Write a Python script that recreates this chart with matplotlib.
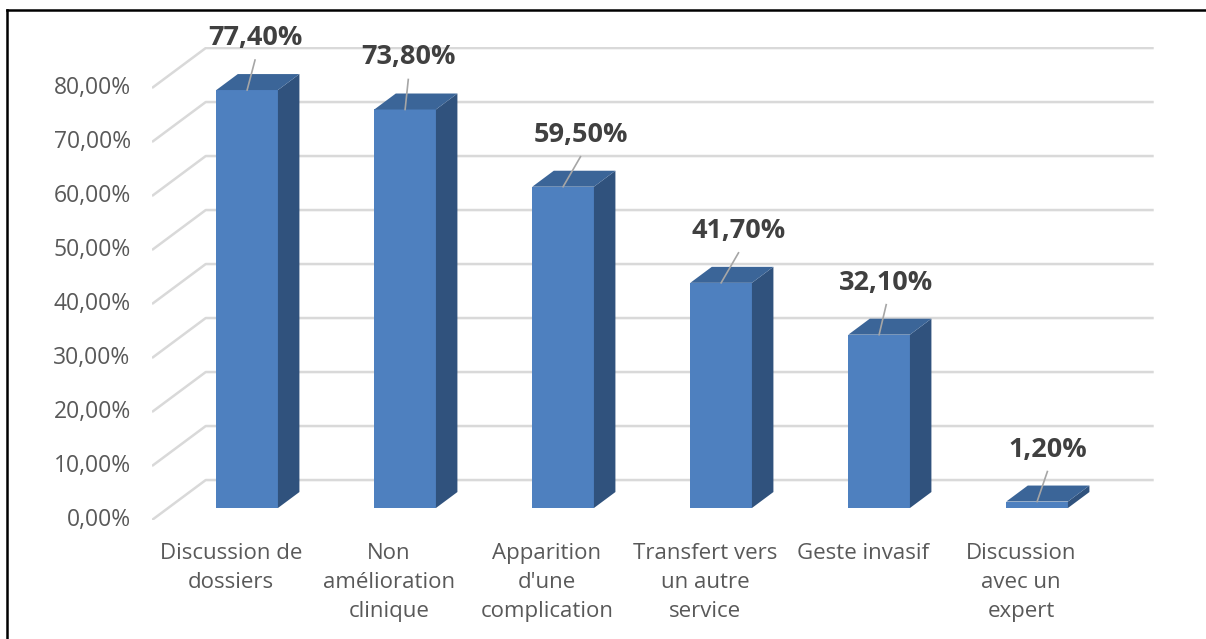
import matplotlib.pyplot as plt
from matplotlib.lines import Line2D

# Chart data
categories = [
    "Discussion de\ndossiers",
    "Non\namélioration\nclinique",
    "Apparition\nd'une\ncomplication",
    "Transfert vers\nun autre\nservice",
    "Geste invasif",
    "Discussion\navec un\nexpert",
]
values = [77.4, 73.8, 59.5, 41.7, 32.1, 1.2]
value_labels = ["77,40%", "73,80%", "59,50%", "41,70%", "32,10%", "1,20%"]
ticks = [0, 10, 20, 30, 40, 50, 60, 70, 80]
tick_labels = ["%d,00%%" % t for t in ticks]

# Small horizontal nudges for the value labels (category units)
label_nudge = [0.05, 0.02, 0.11, 0.11, 0.045, 0.065]

# Oblique 3D look: depth offset of the back wall, in data units
DX, DY = 0.34, 7.4
BAR_W = 0.39
BAR_Z0, BAR_T = 0.3, 0.4  # bar front position and thickness as share of depth

FRONT = "#4e80bf"
SIDE = "#30527d"
TOP = "#3b6598"
GRID = "#d9d9d9"
TEXT = "#595959"

plt.rcParams["font.family"] = ["Open Sans", "DejaVu Sans"]

W, H = 1206, 639
fig = plt.figure(figsize=(W / 100, H / 100), dpi=100)
ax = fig.add_axes([152 / W, (H - 520) / H, 1003 / W, 473 / H])
ax.set_xlim(0, 1003 / 158)
ax.set_ylim(0, 473 / 5.4)
ax.axis("off")

# gridlines: diagonal on the side, horizontal on the back wall
for t, lab in zip(ticks, tick_labels):
    ax.plot([0, DX, len(categories) + DX], [t, t + DY, t + DY],
            color=GRID, lw=1.8, zorder=1, solid_capstyle="butt")
    ax.text(-0.135, t, lab, ha="right", va="center", fontsize=16.5,
            color=TEXT, clip_on=False)

# bars
for i, (v, lab) in enumerate(zip(values, value_labels)):
    x0 = i + 0.5 - BAR_W / 2 + BAR_Z0 * DX
    x1 = x0 + BAR_W
    y0 = BAR_Z0 * DY
    y1 = v + y0
    dx, dy = BAR_T * DX, BAR_T * DY
    ax.fill([x0, x1, x1, x0], [y0, y0, y1, y1], color=FRONT, lw=0, zorder=3)
    ax.fill([x1, x1 + dx, x1 + dx, x1], [y0, y0 + dy, y1 + dy, y1],
            color=SIDE, lw=0, zorder=3)
    ax.fill([x0, x1, x1 + dx, x0 + dx], [y1, y1, y1 + dy, y1 + dy],
            color=TOP, lw=0, zorder=3)

    # value label with leader line to the bar top
    xc = (x0 + x1) / 2
    lx = xc + label_nudge[i]
    ly = y1 + 52 / 5.4
    ax.plot([lx, xc], [y1 + 30 / 5.4, y1], color="#a6a6a6", lw=1.2, zorder=4)
    ax.text(lx, ly, lab, ha="center", va="center", fontsize=19.5,
            fontweight="bold", color="#404040", zorder=5, clip_on=False)

# category labels
for i, c in enumerate(categories):
    ax.text(i + 0.5, -23 / 5.4, c, ha="center", va="top", fontsize=16,
            color=TEXT, linespacing=1.5, clip_on=False)

# outer frame (left and top edges)
fig.add_artist(Line2D([6.5 / W, 6.5 / W], [0, 1 - 10 / H], color="black",
                      lw=1.8, transform=fig.transFigure))
fig.add_artist(Line2D([6.5 / W, 1], [1 - 10 / H, 1 - 10 / H], color="black",
                      lw=1.8, transform=fig.transFigure))

fig.savefig("out.png", dpi=100)
